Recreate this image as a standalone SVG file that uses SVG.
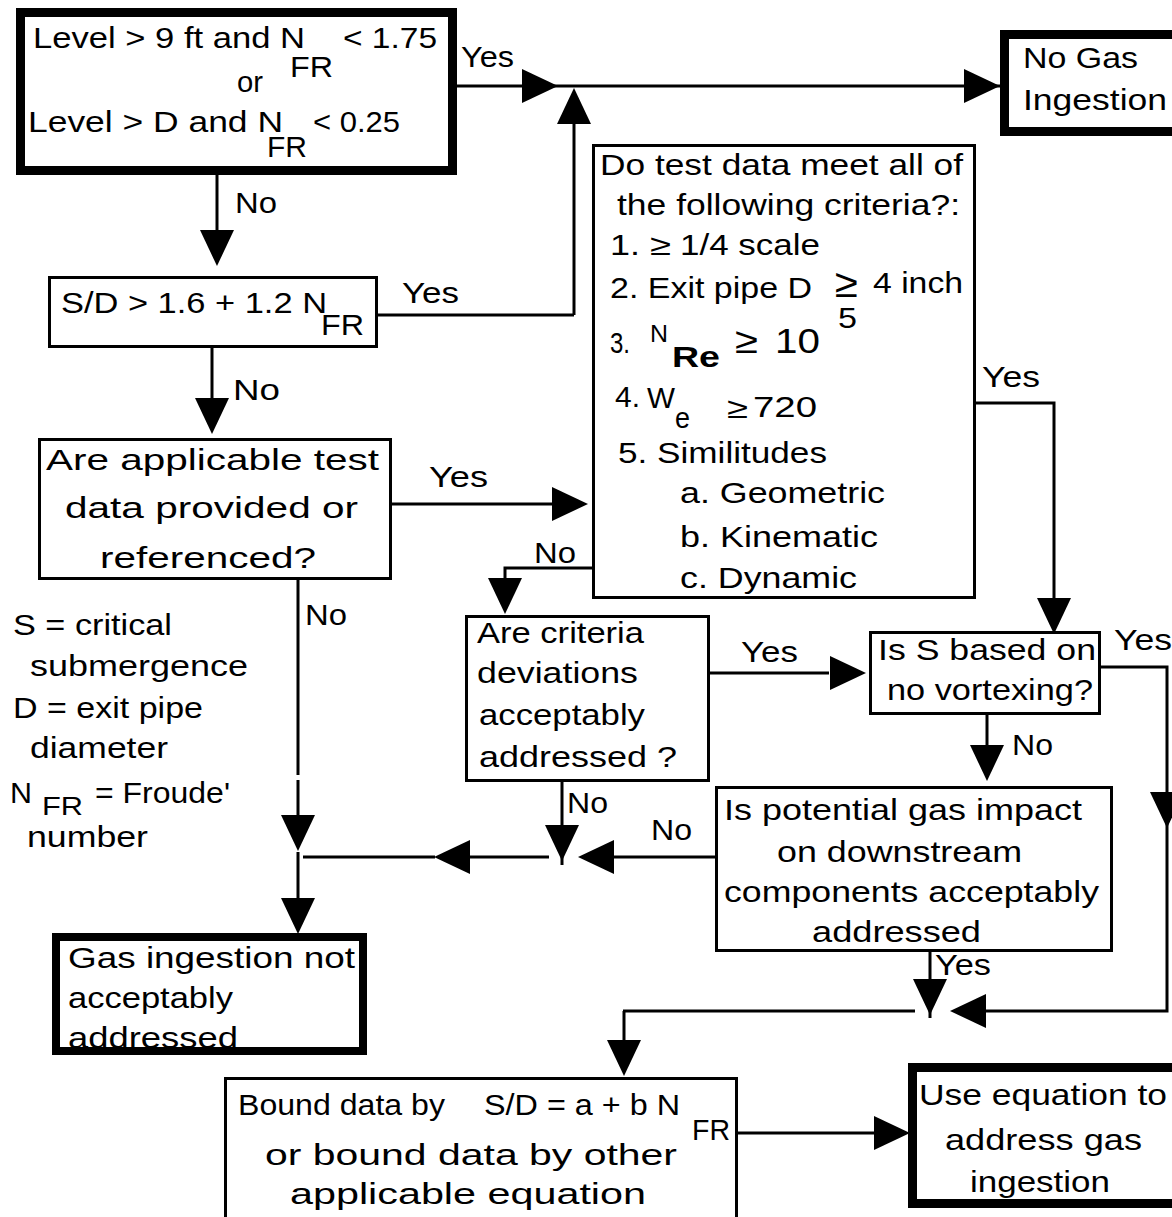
<svg xmlns="http://www.w3.org/2000/svg" width="1172" height="1217" viewBox="0 0 1172 1217">
<style>
text{font-family:"Liberation Sans",Arial,sans-serif;font-size:29px;fill:#000}
.box{fill:#fff;stroke:#000;stroke-width:3}
.thick{fill:#fff;stroke:#000;stroke-width:9}
.ln{fill:none;stroke:#000;stroke-width:3}
</style>
<defs>
<path id="ah" d="M-17,0 L17,0 L0,36 Z" fill="#000"/>
</defs>
<rect width="1172" height="1217" fill="#fff"/>

<g id="connectors">
<path class="ln" d="M456,86 H1000"/>
<path class="ln" d="M574,315 V100"/>
<path class="ln" d="M378,315 H574"/>
<path class="ln" d="M217,175 V230"/>
<path class="ln" d="M212,348 V400"/>
<path class="ln" d="M392,504 H552"/>
<path class="ln" d="M592,568 H505 V580"/>
<path class="ln" d="M976,403 H1054 V602"/>
<path class="ln" d="M710,673 H829"/>
<path class="ln" d="M1101,667 H1167 V1011 H986"/>
<path class="ln" d="M987,715 V745"/>
<path class="ln" d="M715,857 H612"/>
<path class="ln" d="M562,782 V829 M562,857 V865"/>
<path class="ln" d="M549,857 H468 M435,857 H303"/>
<path class="ln" d="M298,580 V775 M298,780 V815 M298,852 V900"/>
<path class="ln" d="M930,952 V982 M930,1011 V1018"/>
<path class="ln" d="M623,1011 H915 M624,1011 V1041"/>
<path class="ln" d="M738,1133 H876"/>
<use href="#ah" transform="translate(522,86) rotate(-90)"/>
<use href="#ah" transform="translate(964,86) rotate(-90)"/>
<use href="#ah" transform="translate(574,124) rotate(180)"/>
<use href="#ah" transform="translate(217,230)"/>
<use href="#ah" transform="translate(212,398)"/>
<use href="#ah" transform="translate(552,504) rotate(-90)"/>
<use href="#ah" transform="translate(505,578)"/>
<use href="#ah" transform="translate(1054,598)"/>
<use href="#ah" transform="translate(830,673) rotate(-90)"/>
<use href="#ah" transform="translate(1167,792)"/>
<use href="#ah" transform="translate(986,1011) rotate(90)"/>
<use href="#ah" transform="translate(987,745)"/>
<use href="#ah" transform="translate(614,857) rotate(90)"/>
<use href="#ah" transform="translate(562,825)"/>
<use href="#ah" transform="translate(470,857) rotate(90)"/>
<use href="#ah" transform="translate(298,815)"/>
<use href="#ah" transform="translate(298,898)"/>
<use href="#ah" transform="translate(930,979)"/>
<use href="#ah" transform="translate(624,1040)"/>
<use href="#ah" transform="translate(874,1133) rotate(-90)"/>
<text x="461" y="67" textLength="53" lengthAdjust="spacingAndGlyphs">Yes</text>
<text x="235" y="213" textLength="42" lengthAdjust="spacingAndGlyphs">No</text>
<text x="402" y="303" textLength="57" lengthAdjust="spacingAndGlyphs">Yes</text>
<text x="233" y="400" textLength="47" lengthAdjust="spacingAndGlyphs">No</text>
<text x="429" y="487" textLength="59" lengthAdjust="spacingAndGlyphs">Yes</text>
<text x="534" y="563" textLength="42" lengthAdjust="spacingAndGlyphs">No</text>
<text x="982" y="387" textLength="58" lengthAdjust="spacingAndGlyphs">Yes</text>
<text x="741" y="662" textLength="57" lengthAdjust="spacingAndGlyphs">Yes</text>
<text x="1114" y="650" textLength="58" lengthAdjust="spacingAndGlyphs">Yes</text>
<text x="1012" y="755" textLength="41" lengthAdjust="spacingAndGlyphs">No</text>
<text x="651" y="840" textLength="41" lengthAdjust="spacingAndGlyphs">No</text>
<text x="567" y="813" textLength="41" lengthAdjust="spacingAndGlyphs">No</text>
<text x="935" y="975" textLength="56" lengthAdjust="spacingAndGlyphs">Yes</text>
<text x="305" y="625" textLength="42" lengthAdjust="spacingAndGlyphs">No</text>
</g>

<g id="n-level">
<rect class="thick" x="20.5" y="12.5" width="432" height="158"/>
<text x="33" y="48" textLength="272" lengthAdjust="spacingAndGlyphs">Level &gt; 9 ft and N</text>
<text x="290" y="77" textLength="43" lengthAdjust="spacingAndGlyphs">FR</text>
<text x="343" y="48" textLength="94" lengthAdjust="spacingAndGlyphs">&lt; 1.75</text>
<text x="237" y="92" textLength="26" lengthAdjust="spacingAndGlyphs">or</text>
<text x="28" y="132" textLength="255" lengthAdjust="spacingAndGlyphs">Level &gt; D and N</text>
<text x="267" y="157" textLength="40" lengthAdjust="spacingAndGlyphs">FR</text>
<text x="313" y="132" textLength="87" lengthAdjust="spacingAndGlyphs">&lt; 0.25</text>
</g>

<g id="n-nogas">
<rect class="thick" x="1004.5" y="34.5" width="200" height="97"/>
<text x="1023" y="68" textLength="115" lengthAdjust="spacingAndGlyphs">No Gas</text>
<text x="1023" y="110" textLength="144" lengthAdjust="spacingAndGlyphs">Ingestion</text>
</g>

<g id="n-sd">
<rect class="box" x="49.5" y="277.5" width="327" height="69"/>
<text x="61" y="313" textLength="266" lengthAdjust="spacingAndGlyphs">S/D &gt; 1.6 + 1.2 N</text>
<text x="321" y="335" textLength="43" lengthAdjust="spacingAndGlyphs">FR</text>
</g>

<g id="n-applicable">
<rect class="box" x="39.5" y="439.5" width="351" height="139"/>
<text x="46" y="470" textLength="333" lengthAdjust="spacingAndGlyphs">Are applicable test</text>
<text x="65" y="518" textLength="293" lengthAdjust="spacingAndGlyphs">data provided or</text>
<text x="100" y="568" textLength="216" lengthAdjust="spacingAndGlyphs">referenced?</text>
</g>

<g id="n-criteria">
<rect class="box" x="593.5" y="145.5" width="381" height="452"/>
<text x="600" y="175" textLength="363" lengthAdjust="spacingAndGlyphs">Do test data meet all of</text>
<text x="617" y="215" textLength="343" lengthAdjust="spacingAndGlyphs">the following criteria?:</text>
<text x="610" y="255" textLength="30" lengthAdjust="spacingAndGlyphs">1.</text>
<text x="650" y="255" textLength="21" lengthAdjust="spacingAndGlyphs">≥</text>
<text x="680" y="255" textLength="140" lengthAdjust="spacingAndGlyphs">1/4 scale</text>
<text x="610" y="298" textLength="202" lengthAdjust="spacingAndGlyphs">2. Exit pipe D</text>
<text x="835" y="297" style="font-size:40px" textLength="23" lengthAdjust="spacingAndGlyphs">≥</text>
<text x="873" y="293" textLength="90" lengthAdjust="spacingAndGlyphs">4 inch</text>
<text x="838" y="328" textLength="19" lengthAdjust="spacingAndGlyphs">5</text>
<text x="610" y="353" textLength="20" lengthAdjust="spacingAndGlyphs">3.</text>
<text x="650" y="342" style="font-size:23px" textLength="18" lengthAdjust="spacingAndGlyphs">N</text>
<text x="672" y="367" style="font-weight:bold" textLength="48" lengthAdjust="spacingAndGlyphs">Re</text>
<text x="735" y="353" style="font-size:36px" textLength="23" lengthAdjust="spacingAndGlyphs">≥</text>
<text x="775" y="353" style="font-size:35px" textLength="45" lengthAdjust="spacingAndGlyphs">10</text>
<text x="615" y="407" textLength="25" lengthAdjust="spacingAndGlyphs">4.</text>
<text x="647" y="408" textLength="28" lengthAdjust="spacingAndGlyphs">W</text>
<text x="675" y="428" textLength="15" lengthAdjust="spacingAndGlyphs">e</text>
<text x="727" y="418" textLength="21" lengthAdjust="spacingAndGlyphs">≥</text>
<text x="753" y="417" textLength="64" lengthAdjust="spacingAndGlyphs">720</text>
<text x="618" y="463" textLength="209" lengthAdjust="spacingAndGlyphs">5. Similitudes</text>
<text x="680" y="503" textLength="205" lengthAdjust="spacingAndGlyphs">a.  Geometric</text>
<text x="680" y="547" textLength="198" lengthAdjust="spacingAndGlyphs">b.  Kinematic</text>
<text x="680" y="588" textLength="177" lengthAdjust="spacingAndGlyphs">c.  Dynamic</text>
</g>

<g id="n-deviations">
<rect class="box" x="466.5" y="616.5" width="242" height="164"/>
<text x="477" y="643" textLength="167" lengthAdjust="spacingAndGlyphs">Are criteria</text>
<text x="477" y="683" textLength="161" lengthAdjust="spacingAndGlyphs">deviations</text>
<text x="479" y="725" textLength="166" lengthAdjust="spacingAndGlyphs">acceptably</text>
<text x="479" y="767" textLength="198" lengthAdjust="spacingAndGlyphs">addressed ?</text>
</g>

<g id="n-vortex">
<rect class="box" x="870.5" y="632.5" width="229" height="81"/>
<text x="878" y="660" textLength="218" lengthAdjust="spacingAndGlyphs">Is S based on</text>
<text x="887" y="700" textLength="206" lengthAdjust="spacingAndGlyphs">no vortexing?</text>
</g>

<g id="n-impact">
<rect class="box" x="716.5" y="787.5" width="395" height="163"/>
<text x="724" y="820" textLength="358" lengthAdjust="spacingAndGlyphs">Is potential gas impact</text>
<text x="777" y="862" textLength="245" lengthAdjust="spacingAndGlyphs">on downstream</text>
<text x="724" y="902" textLength="375" lengthAdjust="spacingAndGlyphs">components acceptably</text>
<text x="812" y="942" textLength="169" lengthAdjust="spacingAndGlyphs">addressed</text>
</g>

<g id="legend">
<text x="13" y="635" textLength="159" lengthAdjust="spacingAndGlyphs">S = critical</text>
<text x="30" y="676" textLength="218" lengthAdjust="spacingAndGlyphs">submergence</text>
<text x="13" y="718" textLength="190" lengthAdjust="spacingAndGlyphs">D = exit pipe</text>
<text x="30" y="758" textLength="138" lengthAdjust="spacingAndGlyphs">diameter</text>
<text x="10" y="803" textLength="22" lengthAdjust="spacingAndGlyphs">N</text>
<text x="42" y="815" style="font-size:25px" textLength="41" lengthAdjust="spacingAndGlyphs">FR</text>
<text x="95" y="803" textLength="135" lengthAdjust="spacingAndGlyphs">= Froude'</text>
<text x="27" y="847" textLength="121" lengthAdjust="spacingAndGlyphs">number</text>
</g>

<g id="n-notaccept">
<rect x="56" y="937" width="307" height="114" fill="#fff"/>
<text x="68" y="968" textLength="287" lengthAdjust="spacingAndGlyphs">Gas ingestion  not</text>
<text x="68" y="1008" textLength="165" lengthAdjust="spacingAndGlyphs">acceptably</text>
<text x="68" y="1048" textLength="170" lengthAdjust="spacingAndGlyphs">addressed</text>
<rect x="56" y="937" width="307" height="114" fill="none" stroke="#000" stroke-width="8"/>
</g>

<g id="n-bound">
<rect class="box" x="225.5" y="1078.5" width="511" height="160"/>
<text x="238" y="1115" textLength="207" lengthAdjust="spacingAndGlyphs">Bound data by</text>
<text x="484" y="1115" textLength="196" lengthAdjust="spacingAndGlyphs">S/D = a + b N</text>
<text x="692" y="1140" textLength="38" lengthAdjust="spacingAndGlyphs">FR</text>
<text x="265" y="1165" textLength="412" lengthAdjust="spacingAndGlyphs">or bound data by other</text>
<text x="290" y="1204" textLength="356" lengthAdjust="spacingAndGlyphs">applicable equation</text>
</g>

<g id="n-use">
<rect class="thick" x="912.5" y="1067.5" width="300" height="136"/>
<text x="919" y="1105" textLength="248" lengthAdjust="spacingAndGlyphs">Use equation to</text>
<text x="945" y="1150" textLength="197" lengthAdjust="spacingAndGlyphs">address gas</text>
<text x="970" y="1192" textLength="140" lengthAdjust="spacingAndGlyphs">ingestion</text>
</g>
</svg>
